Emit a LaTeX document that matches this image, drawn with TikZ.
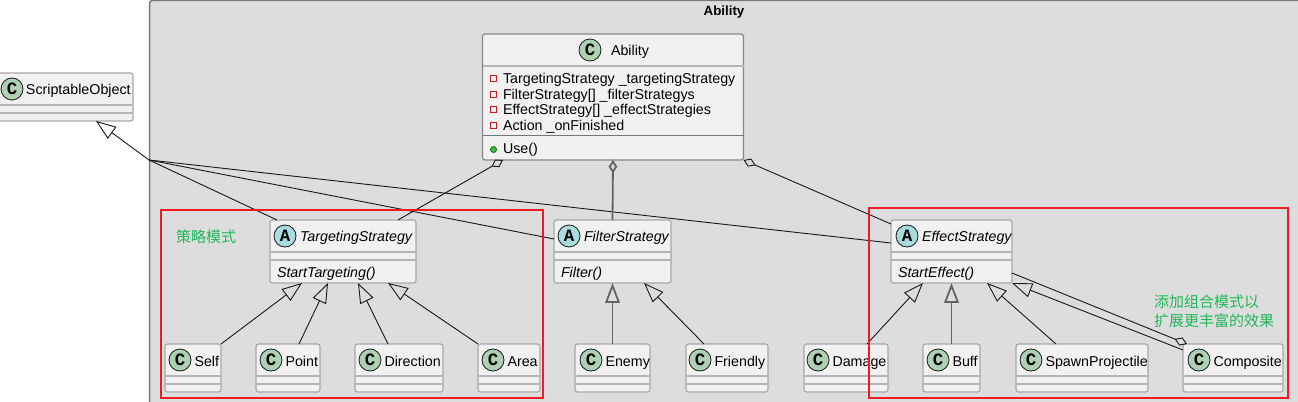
\documentclass[tikz,border=0pt]{standalone}
\usepackage{fontspec}
\setmainfont{Liberation Sans}
\newfontfamily\cjkfont{Noto Sans CJK SC}
\newfontfamily\spotfont{Liberation Mono}
\usetikzlibrary{arrows.meta}
\newcommand{\px}{0.75pt}
\definecolor{groupfill}{HTML}{DDDDDD}
\definecolor{groupline}{HTML}{777777}
\definecolor{boxfill}{HTML}{F1F1F1}
\definecolor{boxline}{HTML}{A8A8A8}
\definecolor{sepgray}{HTML}{B4B4B4}
\definecolor{edgeline}{HTML}{181818}
\definecolor{framered}{HTML}{ED1C24}
\definecolor{notegreen}{HTML}{22B85A}
\definecolor{spotgreen}{HTML}{ADD1B2}
\definecolor{spotblue}{HTML}{A9DCDF}
\tikzset{
  classbox/.style={draw=boxline, fill=boxfill, rounded corners=2.5*\px, line width=1.2*\px, inner sep=0, outer sep=0},
  sepline/.style={draw=sepgray, line width=1.5*\px},
  txt/.style={anchor=base west, inner sep=0, outer sep=0, yshift=-1*\px, text=black, font=\fontsize{10.7}{12}\selectfont},
  itxt/.style={txt, font=\itshape\fontsize{10.7}{12}\selectfont},
  spotc/.style={circle, draw=edgeline, fill=#1, line width=0.8*\px, minimum size=22*\px, inner sep=0, font=\spotfont\bfseries\fontsize{13}{13}\selectfont},
  plainedge/.style={draw=edgeline, line width=0.9*\px},
  genedge/.style={plainedge, -{Triangle[open, length=15pt, width=11pt]}},
  vertedge/.style={genedge, draw=edgeline!62!groupfill, line width=1.8*\px},
  aggedge/.style={plainedge, -{Diamond[open, length=10pt, width=6.5pt]}},
  redframe/.style={draw=framered, line width=2*\px, inner sep=0, outer sep=0},
  note/.style={inner sep=0, outer sep=0, text=notegreen, align=left, anchor=north west, font=\cjkfont\fontsize{11.25}{14.25}\selectfont},
}
\begin{document}
\begin{tikzpicture}[x=0.75pt,y=-0.75pt]
\useasboundingbox (0,0) rectangle (1298,402);
\clip (0,0) rectangle (1298,402);
% Package Group
\draw[draw=groupline, fill=groupfill, line width=1.5*\px, rounded corners=3*\px] (149.5,0.5) rectangle (1320,430);
\node[anchor=base, inner sep=0, font=\bfseries] (grouptitle) at (724,16) {Ability};
% Outside Class
\node[classbox, minimum width=136*\px, minimum height=48*\px] (scriptable) at (65,97) {};
\draw[sepline] (scriptable.west |- 0,105) -- (scriptable.east |- 0,105);
\draw[sepline] (scriptable.west |- 0,113) -- (scriptable.east |- 0,113);
\node[spotc=spotgreen] (scriptablespot) at (12,89) {C};
\node[txt] (scriptabletitle) at (26,94) {ScriptableObject};
% Main Class
\node[classbox, draw=boxline!80!black, minimum width=261*\px, minimum height=126*\px] (ability) at (613,97) {};
\draw[sepline] (ability.west |- 0,66) -- (ability.east |- 0,66);
\draw[draw=boxline!70!black, line width=1*\px] (ability.west |- 0,136) -- (ability.east |- 0,136);
\node[spotc=spotgreen] (abilityspot) at (590,50) {C};
\node[txt] (abilitytitle) at (611,55) {Ability};
\foreach \fy/\ftxt in {83/TargetingStrategy \_targetingStrategy, 98.5/FilterStrategy[] \_filterStrategys, 114/EffectStrategy[] \_effectStrategies, 130/Action \_onFinished}{
  \node[draw=framered!85!black, fill=boxfill, line width=0.9*\px, minimum size=6*\px, inner sep=0] at (493.5,{\fy-4.5}) {};
  \node[txt] at (503,\fy) {\ftxt};
}
\node[circle, draw=green!45!black, fill=green!45!gray, line width=0.8*\px, minimum size=6*\px, inner sep=0] (usedot) at (493.5,149.5) {};
\node[txt] (usetext) at (503,153) {Use()};
% Abstract Classes
\foreach \nm/\lft/\rgt/\cx/\ttl/\mth in {targeting/270/416/285/TargetingStrategy/StartTargeting(), filter/554/671/569/FilterStrategy/Filter(), effect/891/1012/907/EffectStrategy/StartEffect()}{
  \node[classbox, minimum width={(\rgt-\lft)*\px}, minimum height=63*\px] (\nm) at ({(\lft+\rgt)/2},251.5) {};
  \draw[sepline] (\nm.west |- 0,252) -- (\nm.east |- 0,252);
  \draw[sepline] (\nm.west |- 0,260) -- (\nm.east |- 0,260);
  \node[spotc=spotblue] (\nm spot) at (\cx,236) {A};
  \node[itxt] (\nm title) at ({\cx+15},241) {\ttl};
  \node[itxt] (\nm method) at ({\lft+7},277) {\mth};
}
% Leaf Classes
\foreach \nm/\lft/\rgt/\cx/\ttl in {self/165/221/180/Self, point/256/320/271/Point, direction/355/443/370/Direction, area/478/540/493/Area, enemy/575/650/591/Enemy, friendly/686/768/700/Friendly, damage/804/888/818/Damage, buff/923/980/938/Buff, spawn/1016/1148/1031/SpawnProjectile, composite/1183/1283/1199/Composite}{
  \node[classbox, minimum width={(\rgt-\lft)*\px}, minimum height=48*\px] (\nm) at ({(\lft+\rgt)/2},368) {};
  \draw[sepline] (\nm.west |- 0,376) -- (\nm.east |- 0,376);
  \draw[sepline] (\nm.west |- 0,384) -- (\nm.east |- 0,384);
  \node[spotc=spotgreen] (\nm spot) at (\cx,360) {C};
  \node[txt] (\nm title) at ({\cx+14.5},365) {\ttl};
}
% Inheritance From ScriptableObject
\coordinate (junction) at (149,160);
\draw[genedge] (junction) -- ([xshift=31*\px]scriptable.south);
\draw[plainedge] (junction) -- ([xshift=-66*\px]targeting.north);
\draw[plainedge] (junction) -- ([yshift=12.5*\px]filter.west);
\draw[plainedge] (junction) -- ([yshift=8.5*\px]effect.west);
% Aggregation
\draw[aggedge] ([xshift=55*\px]targeting.north) -- ([xshift=-110*\px]ability.south);
\draw[aggedge, draw=edgeline!62!groupfill, line width=1.8*\px] (filter.north) -- (ability.south);
\draw[aggedge] ([yshift=27.5*\px]effect.west) -- (ability.south east);
\draw[aggedge] ([yshift=-21.5*\px]effect.east) -- ([xshift=4*\px]composite.north west);
% Inheritance
\draw[genedge] (self.north east) -- ([xshift=-41*\px]targeting.south);
\draw[genedge] ([xshift=11*\px]point.north) -- ([xshift=-15*\px]targeting.south);
\draw[genedge] ([xshift=-11*\px]direction.north) -- ([xshift=15*\px]targeting.south);
\draw[genedge] (area.north west) -- ([xshift=45*\px]targeting.south);
\draw[vertedge] (enemy.north) -- (filter.south);
\draw[genedge] ([xshift=-23*\px]friendly.north) -- ([xshift=31.5*\px]filter.south);
\draw[genedge] ([xshift=21*\px]damage.north) -- ([xshift=-28.5*\px]effect.south);
\draw[vertedge] (buff.north) -- (effect.south);
\draw[genedge] ([xshift=-26*\px]spawn.north) -- ([xshift=35.5*\px]effect.south);
\draw[genedge] ([yshift=18*\px]composite.west) -- (effect.south east);
% Red Frames And Notes
\node[redframe, minimum width=382*\px, minimum height=188*\px] (targetframe) at (352,304) {};
\node[redframe, minimum width=419*\px, minimum height=190*\px] (effectframe) at (1078.5,303) {};
\node[note] (targetnote) at (176,230) {策略模式};
\node[note] (effectnote) at (1154,295) {添加组合模式以\\扩展更丰富的效果};
\end{tikzpicture}
\end{document}
